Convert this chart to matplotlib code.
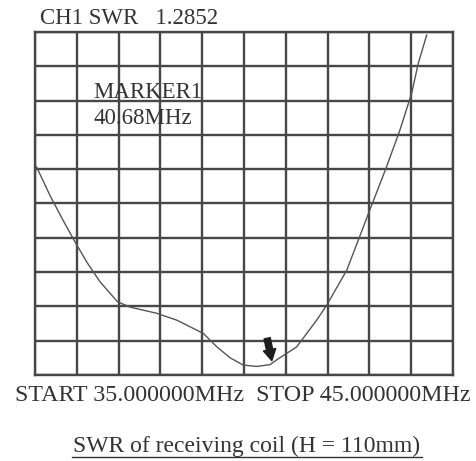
import numpy as np
import matplotlib.pyplot as plt

# SWR trace (y in grid divisions, 0 = bottom)
freq = [35.0, 35.04, 35.36, 35.68, 35.92, 36.24, 36.56, 36.97, 37.27, 37.91, 38.39,
        39.03, 39.35, 39.67, 39.98, 40.30, 40.62, 40.78, 41.26, 41.74, 41.98,
        42.46, 43.01, 43.41, 43.73, 44.01, 44.17, 44.37]
swr_div = [6.1, 6.06, 5.23, 4.49, 3.96, 3.29, 2.71, 2.14, 1.98, 1.80, 1.60,
           1.21, 0.82, 0.50, 0.29, 0.25, 0.30, 0.44, 0.82, 1.60, 2.04,
           3.06, 4.81, 6.07, 7.14, 8.21, 9.09, 9.91]
marker_freq = 40.63

plt.rcParams['font.family'] = ['Liberation Serif', 'DejaVu Serif']

fig = plt.figure(figsize=(4.76, 4.61), dpi=100)
ax = fig.add_axes([35/476, 1-375/461, 418/476, 343/461])

ax.set_xlim(35, 45)
ax.set_ylim(0, 10)
ax.set_xticks(np.arange(35, 46, 1))
ax.set_yticks(np.arange(0, 11, 1))
ax.grid(True, color='#474747', linewidth=1.7)
ax.tick_params(left=False, bottom=False, labelleft=False, labelbottom=False)
for s in ax.spines.values():
    s.set_color('#474747')
    s.set_linewidth(1.7)

ax.plot(freq, swr_div, color='#555555', linewidth=1.0)

# marker arrow
ax.annotate('', xy=(marker_freq + 0.05, 0.34), xytext=(marker_freq - 0.09, 1.15),
            arrowprops=dict(arrowstyle='simple,head_width=0.9,head_length=0.8,tail_width=0.45',
                            color='#1e1e1e'))

fig.text(40/476, 1-18/461, 'CH1 SWR   1.2852', fontsize=16.5, color='#333333', va='center')
fig.text(93/476, 1-92/461, 'MARKER1', fontsize=16.5, color='#333333', va='center')
fig.text(93/476, 1-118/461, '40.68MHz', fontsize=16.5, color='#333333', va='center')
fig.text(15/476, 1-395/461, 'START 35.000000MHz  STOP 45.000000MHz', fontsize=17.3,
         color='#333333', va='center')
fig.text(247/476, 1-446/461, 'SWR of receiving coil (H = 110mm)', fontsize=17,
         color='#333333', va='center', ha='center')
fig.add_artist(plt.Line2D([72/476, 422/476], [1-457/461, 1-457/461], color='#333333',
                          linewidth=1.0))

fig.savefig('out.png', dpi=100)
